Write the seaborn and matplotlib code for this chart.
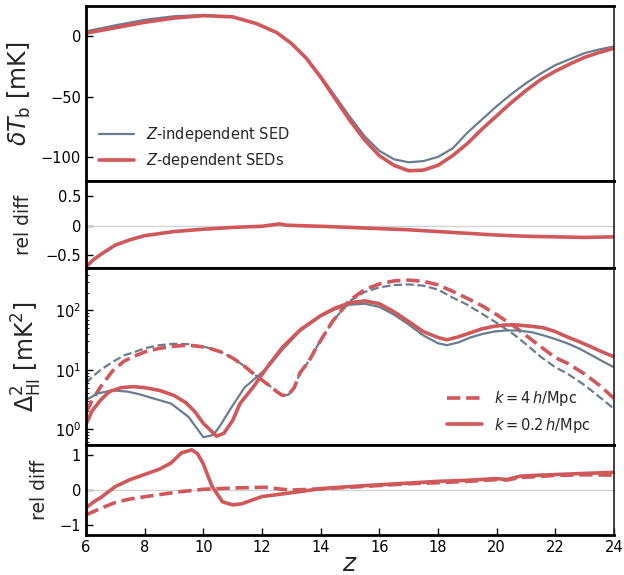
import numpy as np
import pandas as pd
import matplotlib
matplotlib.use('Agg')
import matplotlib.pyplot as plt
import seaborn as sns
from matplotlib.ticker import FuncFormatter

# ------------- colours -------------
RED = '#d0585b'
BLUE = '#6a7d8f'

# ------------- data: brightness temperature -------------
z_tb = [6, 7, 8, 9, 10, 11, 11.8, 12.5, 13, 13.5, 14, 14.5, 15, 15.5, 16, 16.5,
        17, 17.5, 18, 18.5, 19, 19.5, 20, 20.5, 21, 21.5, 22, 22.5, 23, 23.5, 24]
tb_zdep = [2.5, 7, 11.5, 15, 17, 16, 10.5, 3, -6, -18, -34, -52, -70, -86, -99, -107,
           -111.5, -111, -107, -99, -89, -77, -66, -55, -45, -36, -29, -23, -17.5, -13.5, -10]
tb_zind = [4, 9, 13.5, 16.5, 17.5, 16, 10.5, 3, -6, -18, -33, -50, -67, -83, -95, -102,
           -104.5, -103.5, -100, -93, -80, -69, -58, -48, -39, -31, -24, -19, -14, -11, -8.5]

z_tb_rd = [6, 6.25, 6.5, 7, 7.5, 8, 9, 10, 11, 12, 12.6, 12.8, 13.3, 14, 15, 16, 17,
           18, 19, 20, 21, 22, 23, 24]
tb_rd = [-0.70, -0.58, -0.49, -0.33, -0.24, -0.17, -0.10, -0.06, -0.03, -0.01, 0.03,
         0.01, 0.0, -0.01, -0.03, -0.05, -0.07, -0.10, -0.13, -0.16, -0.18, -0.19, -0.20, -0.19]

# ------------- data: power spectrum, k = 0.2 h/Mpc -------------
z_ps_zdep = [6, 6.2, 6.5, 6.8, 7.2, 7.6, 8.0, 8.5, 9.0, 9.4, 9.7, 10.0, 10.25, 10.45,
             10.7, 11.0, 11.25, 11.7, 12.2, 12.7, 13.3, 14.0, 14.5, 15.0, 15.5, 16.0,
             16.5, 17.0, 17.5, 18.0, 18.3, 18.7, 19.1, 19.5, 19.9, 20.3, 20.7, 21.2,
             21.6, 22.0, 22.4, 22.8, 23.2, 23.6, 24]
ps_zdep = [1.2, 2.0, 3.1, 4.3, 5.0, 5.2, 5.0, 4.5, 3.7, 2.8, 2.0, 1.25, 0.95, 0.76,
           0.85, 1.4, 2.7, 5.1, 11.5, 24, 47, 82, 110, 135, 145, 130, 95, 65, 44, 35,
           32, 36, 42, 49, 54, 57, 57, 54, 51, 44, 36, 30, 24.6, 20, 16.6]
z_ps_zind = [6, 6.4, 6.9, 7.4, 7.8, 8.2, 8.9, 9.5, 9.8, 10.0, 10.35, 10.6, 10.9, 11.4,
             12.2, 12.7, 13.3, 14.0, 14.5, 15.0, 15.5, 16.0, 16.5, 17.0, 17.5, 18.0,
             18.3, 18.7, 19.1, 19.5, 19.9, 20.3, 20.7, 21.2, 21.6, 22.0, 22.4, 22.8,
             23.2, 23.6, 24]
ps_zind = [3.1, 4.0, 4.5, 4.3, 3.9, 3.4, 2.7, 1.6, 1.0, 0.73, 0.8, 1.2, 2.1, 5.0,
           11, 22, 45, 80, 105, 125, 130, 115, 85, 58, 38, 28, 26, 29, 35, 40, 44,
           46, 46, 43, 38, 33, 28, 23, 18, 14, 11]

# ------------- data: power spectrum, k = 4 h/Mpc -------------
z_ps4 = [6, 6.2, 6.5, 6.9, 7.3, 7.6, 8.0, 8.5, 9.0, 9.5, 10.1, 10.6, 11.0, 11.4, 11.7,
         12.0, 12.3, 12.5, 12.7, 12.9, 13.1, 13.3, 13.6, 13.9, 14.4, 15.0, 15.5, 16.0,
         16.5, 17.0, 17.5, 18.0, 18.5, 19.0, 19.5, 20.0, 20.6, 21.0, 21.5, 22.0, 22.4,
         23.0, 23.5, 24]
ps4_zdep = [1.9, 3.0, 5.2, 9.5, 14, 16.6, 20, 23, 25, 26, 24, 20, 15.8, 11.5, 8.7,
            6.7, 5.2, 4.3, 3.7, 3.8, 5.0, 9.0, 14, 26, 65, 150, 225, 280, 315, 325,
            310, 270, 210, 160, 120, 85, 54, 38, 24.6, 16, 13, 8.5, 5.5, 3.3]
ps4_zind = [5.9, 7.5, 10, 13.5, 17.5, 19.5, 23, 26, 27.5, 27, 24, 20, 15.8, 11.5, 8.7,
            6.7, 5.2, 4.3, 3.7, 3.8, 5.0, 9.0, 14, 26, 65, 145, 205, 245, 268, 275,
            262, 225, 165, 125, 88, 62, 39, 27, 16.6, 11, 8.7, 5.5, 3.5, 2.2]

# ------------- data: power spectrum relative differences -------------
z_rd02 = [6, 6.25, 6.5, 7.0, 7.5, 8.0, 8.5, 8.9, 9.25, 9.6, 9.8, 10.0, 10.3, 10.65,
          11.0, 11.3, 12.0, 13.0, 14.0, 15.0, 16.0, 17.0, 18.0, 19.0, 20.0, 20.35,
          20.8, 21.5, 22.4, 23.0, 24]
rd02 = [-0.52, -0.35, -0.22, 0.1, 0.3, 0.45, 0.6, 0.78, 1.07, 1.16, 1.05, 0.75, 0.1,
        -0.34, -0.43, -0.40, -0.19, -0.08, 0.04, 0.1, 0.15, 0.2, 0.25, 0.28, 0.33,
        0.30, 0.40, 0.43, 0.46, 0.48, 0.51]
z_rd4 = [6, 6.5, 7.0, 7.5, 8.2, 9.2, 10.0, 11.1, 12.1, 12.7, 13.0, 14.0, 15.0, 16.0,
         17.0, 18.0, 19.0, 20.0, 20.35, 20.8, 22.0, 23.0, 24]
rd4 = [-0.72, -0.53, -0.36, -0.26, -0.17, -0.05, 0.02, 0.06, 0.08, 0.02, 0.0, 0.03,
       0.08, 0.13, 0.18, 0.21, 0.25, 0.3, 0.29, 0.36, 0.42, 0.44, 0.43]

z_ticks = [6, 8, 10, 12, 14, 16, 18, 20, 22, 24]

# ------------- style -------------
sns.set_style('ticks')
plt.rcParams['font.family'] = ['DejaVu Sans']
plt.rcParams['mathtext.fontset'] = 'dejavusans'

fig = plt.figure(figsize=(6.24, 5.75), dpi=100)
L, W = 86 / 624, 528 / 624
ax1 = fig.add_axes([L, 1 - 181 / 575, W, 175 / 575])
ax2 = fig.add_axes([L, 1 - 268 / 575, W, 87 / 575])
ax3 = fig.add_axes([L, 1 - 445 / 575, W, 177 / 575])
ax4 = fig.add_axes([L, 1 - 535 / 575, W, 90 / 575])


def fmt(v, pos):
    return '{:g}'.format(v).replace('-', '\u2212')


# --- panel 1: delta T_b ---
sns.lineplot(x=z_tb, y=tb_zind, ax=ax1, color=BLUE, lw=1.6, label=r'$Z$-independent SED')
sns.lineplot(x=z_tb, y=tb_zdep, ax=ax1, color=RED, lw=2.6, label=r'$Z$-dependent SEDs')
ax1.set_ylim(-120, 25)
ax1.set_yticks([0, -50, -100])
ax1.yaxis.set_major_formatter(FuncFormatter(fmt))
ax1.set_ylabel(r'$\delta T_{\rm b}$ [mK]', fontsize=17)
ax1.legend(loc='lower left', bbox_to_anchor=(0.0, -0.015), frameon=False, fontsize=10.5,
           handlelength=2.4)

# --- panel 2: rel diff of T_b ---
ax2.axhline(0, color='#d3d3d3', lw=1)
sns.lineplot(x=z_tb_rd, y=tb_rd, ax=ax2, color=RED, lw=2.6)
ax2.set_ylim(-0.72, 0.76)
ax2.set_yticks([-0.5, 0, 0.5])
ax2.yaxis.set_major_formatter(FuncFormatter(fmt))
ax2.set_ylabel('rel diff', fontsize=13.5)

# --- panel 3: power spectrum ---
sns.lineplot(x=z_ps4, y=ps4_zind, ax=ax3, color=BLUE, lw=1.6, linestyle='--')
sns.lineplot(x=z_ps4, y=ps4_zdep, ax=ax3, color=RED, lw=2.6, linestyle='--',
             label=r'$k = 4\,h/{\rm Mpc}$')
sns.lineplot(x=z_ps_zind, y=ps_zind, ax=ax3, color=BLUE, lw=1.6)
sns.lineplot(x=z_ps_zdep, y=ps_zdep, ax=ax3, color=RED, lw=2.6,
             label=r'$k = 0.2\,h/{\rm Mpc}$')
ax3.set_yscale('log')
ax3.set_ylim(0.54, 520)
ax3.set_ylabel(r'$\Delta^2_{\rm HI}$ [mK$^2$]', fontsize=17)
ax3.legend(loc='lower right', bbox_to_anchor=(0.98, -0.015), frameon=False, fontsize=10.5,
           handlelength=2.4)

# --- panel 4: rel diff of power spectrum ---
ax4.axhline(0, color='#d3d3d3', lw=1)
sns.lineplot(x=z_rd4, y=rd4, ax=ax4, color=RED, lw=2.6, linestyle='--')
sns.lineplot(x=z_rd02, y=rd02, ax=ax4, color=RED, lw=2.6)
ax4.set_ylim(-1.3, 1.3)
ax4.set_yticks([-1, 0, 1])
ax4.yaxis.set_major_formatter(FuncFormatter(fmt))
ax4.set_ylabel('rel diff', fontsize=13.5)
ax4.set_xlabel(r'$z$', fontsize=18, labelpad=-2)
ax4.set_xticks(z_ticks)

for ax in (ax1, ax2, ax3, ax4):
    ax.set_xlim(6, 24)
    for side in ('left', 'top', 'bottom'):
        ax.spines[side].set_linewidth(2)
        ax.spines[side].set_color('black')
    ax.spines['right'].set_linewidth(1.2)
    ax.spines['right'].set_color('#222222')
    ax.tick_params(axis='both', which='major', direction='in', length=5, width=1,
                   labelsize=10.5, colors='black')
    ax.tick_params(axis='both', which='minor', direction='in', length=2.5, width=0.8)
    if ax is not ax4:
        ax.tick_params(axis='x', which='both', bottom=False, labelbottom=False)
        ax.set_xlabel('')

ax1.yaxis.set_label_coords(-0.1, 0.5)
ax2.yaxis.set_label_coords(-0.1, 0.5)
ax3.yaxis.set_label_coords(-0.08, 0.5)
ax4.yaxis.set_label_coords(-0.07, 0.5)

fig.savefig('out.png', dpi=100)
